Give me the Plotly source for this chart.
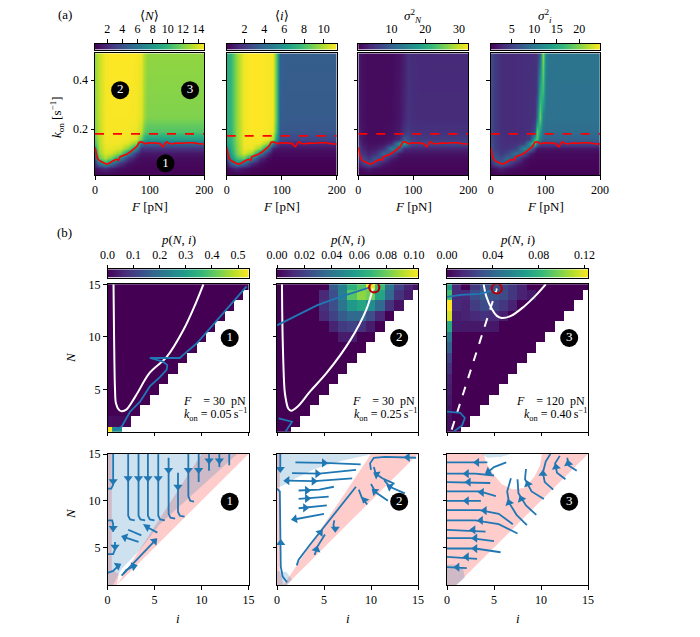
import numpy as np
import plotly.graph_objects as go

W, H = 700, 637
OFF = 8  # the page body margin shifts the figure by this many pixels
FONT = "Liberation Serif, DejaVu Serif, serif"
BLUE = "#1f77b4"
PINK = "rgba(255,0,0,0.2)"
SKY = "rgba(31,119,180,0.22)"

# ---------------- (a) sampled heat maps: columns F [pN], rows k_on [1/s]
F_COLS = [0, 8, 18, 30, 45, 60, 75, 84, 90, 96, 110, 200]
K_ROWS = [0.01, 0.04, 0.06, 0.08, 0.10, 0.12, 0.14, 0.16, 0.19, 0.25, 0.51]

MEAN_N = [
    [0.5] * 12,
    [1.0, 1.5, 2.0, 1.5, 0.9, 0.7, 0.6, 0.6, 0.6, 0.6, 0.6, 0.6],
    [2.5, 6.0, 9.0, 6.0, 2.5, 1.2, 0.8, 0.7, 0.7, 0.7, 0.7, 0.7],
    [4.0, 11.0, 13.0, 11.5, 7.0, 2.5, 1.2, 0.9, 0.9, 0.9, 0.9, 0.9],
    [6.0, 12.5, 14.0, 13.8, 12.0, 7.0, 2.5, 1.3, 1.3, 1.3, 1.3, 1.3],
    [9.0, 13.0, 14.3, 14.4, 14.0, 12.0, 7.5, 2.5, 2.5, 2.5, 2.5, 2.5],
    [10.5, 13.2, 14.5, 14.6, 14.5, 14.0, 12.0, 6.0, 5.0, 5.0, 5.0, 5.0],
    [11.3, 13.3, 14.5, 14.6, 14.6, 14.5, 14.0, 11.5, 9.5, 8.5, 8.5, 8.5],
    [12.0, 13.4, 14.6, 14.7, 14.7, 14.6, 14.4, 13.5, 11.5, 10.8, 10.8, 10.8],
    [12.3, 13.5, 14.6, 14.7, 14.7, 14.7, 14.6, 14.2, 12.8, 12.0, 12.0, 12.0],
    [12.5, 13.6, 14.6, 14.8, 14.8, 14.8, 14.7, 14.4, 13.2, 12.4, 12.4, 12.4],
]
MEAN_I = [
    [0.2] * 12,
    [0.4, 0.8, 1.2, 0.8, 0.4, 0.3, 0.2, 0.2, 0.2, 0.2, 0.2, 0.2],
    [1.2, 3.5, 5.5, 4.0, 1.5, 0.6, 0.3, 0.25, 0.25, 0.25, 0.25, 0.25],
    [2.5, 5.5, 8.0, 8.5, 5.0, 1.5, 0.5, 0.3, 0.3, 0.3, 0.3, 0.3],
    [4.0, 6.5, 9.0, 10.6, 9.5, 5.0, 1.5, 0.5, 0.5, 0.5, 0.5, 0.5],
    [5.5, 7.0, 9.3, 11.0, 11.0, 9.5, 5.0, 1.2, 0.9, 0.8, 0.8, 0.8],
    [6.5, 7.3, 9.4, 11.1, 11.2, 11.0, 9.5, 5.0, 2.5, 1.6, 1.5, 1.5],
    [7.0, 7.4, 9.5, 11.1, 11.2, 11.2, 11.0, 10.0, 6.0, 2.8, 2.6, 2.6],
    [7.0, 7.5, 9.5, 11.1, 11.3, 11.3, 11.2, 11.0, 7.5, 3.3, 3.2, 3.2],
    [7.0, 7.5, 9.6, 11.1, 11.3, 11.3, 11.2, 11.1, 8.0, 3.5, 3.4, 3.4],
    [7.0, 7.5, 9.6, 11.1, 11.3, 11.3, 11.2, 11.1, 8.0, 3.6, 3.5, 3.5],
]
VAR_N = [
    [0.5] * 12,
    [1.0, 1.5, 2.5, 1.5, 1.0, 0.8, 0.6, 0.6, 0.6, 0.6, 0.6, 0.6],
    [3.0, 6.0, 9.0, 6.0, 2.5, 1.2, 0.8, 0.8, 0.8, 0.8, 0.8, 0.8],
    [5.0, 8.0, 5.0, 9.0, 7.0, 2.5, 1.2, 1.0, 1.0, 1.0, 1.0, 1.0],
    [7.0, 5.0, 3.0, 4.5, 11.0, 8.0, 2.5, 1.8, 1.8, 1.8, 1.8, 1.8],
    [7.0, 3.5, 2.0, 2.5, 4.0, 14.0, 11.0, 4.0, 4.0, 3.5, 3.5, 3.5],
    [5.5, 2.5, 1.5, 1.5, 2.0, 4.0, 17.0, 19.0, 12.0, 8.0, 7.5, 7.5],
    [4.0, 2.0, 1.2, 1.2, 1.3, 2.0, 4.0, 10.0, 8.0, 6.5, 6.0, 6.0],
    [3.0, 1.8, 1.1, 1.1, 1.1, 1.5, 2.5, 5.0, 6.0, 5.0, 4.8, 4.8],
    [2.5, 1.6, 1.0, 1.0, 1.0, 1.2, 2.0, 3.5, 5.0, 4.5, 4.2, 4.2],
    [2.2, 1.5, 1.0, 1.0, 1.0, 1.1, 1.8, 3.0, 4.8, 4.3, 4.0, 4.0],
]
F_COLS4 = [0, 8, 18, 30, 45, 60, 72, 80, 85, 90, 95, 100, 106, 130, 200]
K_ROWS4 = [0.01, 0.04, 0.06, 0.08, 0.10, 0.12, 0.14, 0.16, 0.19, 0.25, 0.35, 0.51]
VAR_I = [
    [0.5] * 15,
    [1.0, 1.5, 2.5, 1.5, 1.0, 0.8, 0.6, 0.6, 0.6, 0.6, 0.6, 0.6, 0.6, 0.6, 0.6],
    [3.0, 6.0, 8.0, 6.0, 2.5, 1.2, 0.8, 0.7, 0.7, 0.7, 0.7, 0.7, 0.7, 0.7, 0.7],
    [5.0, 7.0, 6.0, 8.5, 6.0, 2.0, 1.0, 0.8, 0.8, 0.8, 0.8, 0.8, 0.8, 0.8, 0.8],
    [6.5, 6.0, 4.5, 5.5, 9.5, 7.0, 2.5, 1.2, 1.0, 1.0, 1.0, 1.0, 1.0, 1.0, 1.0],
    [7.0, 5.0, 4.0, 4.0, 5.0, 12.0, 10.0, 4.0, 2.0, 1.8, 1.8, 1.8, 1.8, 1.8, 1.8],
    [6.5, 4.8, 3.8, 3.6, 3.8, 5.0, 13.0, 18.0, 10.0, 6.0, 5.5, 5.5, 5.5, 5.5, 5.5],
    [6.2, 4.7, 3.7, 3.5, 3.5, 3.8, 5.0, 16.0, 18.0, 11.0, 8.5, 8.0, 8.0, 8.0, 8.0],
    [6.0, 4.6, 3.6, 3.4, 3.4, 3.5, 3.8, 6.0, 19.0, 14.0, 9.5, 9.0, 9.0, 9.0, 9.0],
    [6.0, 4.6, 3.6, 3.4, 3.4, 3.5, 3.6, 4.0, 9.0, 20.0, 11.0, 9.5, 9.5, 9.5, 9.5],
    [6.0, 4.6, 3.6, 3.4, 3.4, 3.5, 3.6, 3.8, 5.0, 15.0, 17.0, 10.0, 9.5, 9.5, 9.5],
    [6.0, 4.6, 3.6, 3.4, 3.4, 3.5, 3.6, 3.7, 4.2, 7.0, 21.0, 11.0, 9.6, 9.6, 9.6],
]
TOP_RANGE = [(0.4, 14.8), (0.2, 11.3), (0.1, 32.8), (0.35, 24.6)]
TOP_TICKS = [[2, 4, 6, 8, 10, 12, 14], [2, 4, 6, 8, 10], [10, 20, 30], [5, 10, 15, 20]]
TOP_TITLES = ["⟨<i>N</i>⟩", "⟨<i>i</i>⟩", "<i>σ</i><sup>2</sup><sub><i>N</i></sub>",
              "<i>σ</i><sup>2</sup><sub><i>i</i></sub>"]

# red curves: boundary of region 1 and the dashed threshold
EDGE_F = [0, 1, 3, 6, 10, 15, 21, 26, 30, 35, 40, 43, 46, 52, 58, 64, 70, 76, 81, 85,
          88, 92, 96, 100, 105, 110, 115, 119, 122, 125, 128, 131, 136, 140, 143, 150,
          155, 160, 170, 180, 190, 198, 200]
EDGE_K = [0.125, 0.118, 0.09, 0.075, 0.068, 0.062, 0.056, 0.06, 0.067, 0.072, 0.076,
          0.072, 0.087, 0.092, 0.097, 0.106, 0.116, 0.128, 0.146, 0.148, 0.145, 0.139,
          0.143, 0.144, 0.142, 0.144, 0.141, 0.142, 0.132, 0.128, 0.14, 0.148, 0.141,
          0.139, 0.14, 0.143, 0.141, 0.142, 0.144, 0.144, 0.14, 0.141, 0.139]
DASH_K = [0.18, 0.172, 0.18, 0.18]

# ---------------- (b) p(N, i): nonzero cells, keyed (i, N)
P1 = {(0, 1): 0.54, (1, 1): 0.27, (0, 2): 0.02, (1, 2): 0.015, (2, 2): 0.01}
P2 = {
    (6, 15): 0.03, (7, 15): 0.045, (8, 15): 0.065, (9, 15): 0.075, (10, 15): 0.1,
    (11, 15): 0.07, (12, 15): 0.04, (13, 15): 0.02, (14, 15): 0.01, (15, 15): 0.005,
    (5, 14): 0.012, (6, 14): 0.025, (7, 14): 0.045, (8, 14): 0.075, (9, 14): 0.085,
    (10, 14): 0.08, (11, 14): 0.06, (12, 14): 0.035, (13, 14): 0.015, (14, 14): 0.008,
    (5, 13): 0.015, (6, 13): 0.025, (7, 13): 0.04, (8, 13): 0.055, (9, 13): 0.06,
    (10, 13): 0.05, (11, 13): 0.035, (12, 13): 0.015, (13, 13): 0.005,
    (5, 12): 0.012, (6, 12): 0.02, (7, 12): 0.03, (8, 12): 0.035, (9, 12): 0.035,
    (10, 12): 0.025, (11, 12): 0.012,
    (6, 11): 0.01, (7, 11): 0.018, (8, 11): 0.02, (9, 11): 0.015, (10, 11): 0.008,
    (7, 10): 0.008, (8, 10): 0.008,
}
P3 = {
    (0, 15): 0.07, (0, 14): 0.085, (0, 13): 0.123, (0, 12): 0.115, (0, 11): 0.075,
    (0, 10): 0.05, (0, 9): 0.038, (0, 8): 0.025, (0, 7): 0.018, (0, 6): 0.012,
    (0, 5): 0.01, (0, 4): 0.008, (0, 3): 0.006, (0, 2): 0.005, (0, 1): 0.004,
    (1, 15): 0.015, (1, 14): 0.015, (1, 13): 0.015, (1, 12): 0.01, (1, 11): 0.008,
    (3, 15): 0.02, (4, 15): 0.03, (5, 15): 0.03, (6, 15): 0.025, (7, 15): 0.02, (8, 15): 0.012,
    (2, 14): 0.015, (3, 14): 0.028, (4, 14): 0.035, (5, 14): 0.032, (6, 14): 0.028,
    (7, 14): 0.02, (8, 14): 0.012, (9, 14): 0.008,
    (2, 13): 0.012, (3, 13): 0.022, (4, 13): 0.028, (5, 13): 0.025, (6, 13): 0.02, (7, 13): 0.012,
    (2, 12): 0.012, (3, 12): 0.015, (4, 12): 0.018, (5, 12): 0.015, (6, 12): 0.01,
    (2, 11): 0.008, (3, 11): 0.008, (4, 11): 0.008, (5, 11): 0.008,
}
P_MAX = [0.54, 0.103, 0.123]
P_TICKS = [[0, 0.1, 0.2, 0.3, 0.4, 0.5], [0, 0.02, 0.04, 0.06, 0.08, 0.10], [0, 0.04, 0.08, 0.12]]
P_TEXT = [["0.0", "0.1", "0.2", "0.3", "0.4", "0.5"],
          ["0.00", "0.02", "0.04", "0.06", "0.08", "0.10"],
          ["0.00", "0.04", "0.08", "0.12"]]
CASES = [("30", "0.05"), ("30", "0.25"), ("120", "0.40")]

# nullclines (white), trajectories (blue), fixed points (red rings)
NULL_I = [[0.64, 0.7, 0.8, 0.9, 1.2, 1.5, 2.0, 3.0, 4.5, 6.3, 8.1, 9.2, 10.2],
          [0.53, 0.6, 0.8, 0.9, 1.2, 1.5, 2.2, 3.5, 5.3, 7.8, 9.5, 10.2],
          [3.9, 4.2, 4.8, 5.3, 5.8, 6.8, 8.2, 9.5, 10.5]]
NULL_N = [[15, 10, 5, 3.7, 3.1, 2.95, 3.1, 4.4, 6.6, 8.1, 10.7, 12.8, 15],
          [15, 10, 5, 4.3, 3.2, 3.0, 3.4, 4.8, 6.6, 9.7, 12.6, 14.6],
          [15, 13.8, 12.6, 12.0, 11.8, 12.0, 12.9, 14.0, 15]]
DIAG_I = [0.5, 5.3]
DIAG_N = [1.2, 14.6]
TRAJ = [
    [([0.64, 1.5, 2.4, 3.46, 4.5, 5.6, 6.3, 6.36, 5.9, 4.5, 7.7, 8.06, 9.5, 14.8],
      [1.16, 1.47, 2.9, 3.85, 5.3, 6.2, 6.9, 7.33, 7.65, 8.0, 8.0, 8.3, 9.4, 14.8])],
    [([0, 2.0, 4.24, 6.7, 9.9], [11.1, 12.0, 13.0, 13.8, 14.7]),
     ([0.18, 1.6, 0.9], [2.27, 1.95, 1.0])],
    [([0, 1.5, 3.5, 5.2], [13.8, 14.0, 14.1, 14.5]),
     ([0, 1.4, 1.9, 1.6, 0.7], [2.9, 2.8, 2.3, 1.6, 1.0])],
]
FIXED = [None, (10.35, 14.7), (5.3, 14.6)]

# ---------------- (b) lower row: shaded regions and streamlines (i, N)
SHADES = [
    [(PINK, [(1, 1), (15, 15), (10, 15)]),
     (PINK, [(0, 1), (1, 1), (1.2, 2.2), (0.45, 2.6), (0.45, 15), (0, 15)]),
     (SKY, [(0, 15), (13.8, 15), (6.0, 7.9), (5.5, 7.4), (3.5, 4.8), (1.5, 2.7),
            (1.0, 1.8), (0.6, 1.0), (0, 1)])],
    [(PINK, [(0.7, 1), (1, 1), (15, 15), (10, 15)]),
     (PINK, [(0, 1), (0.7, 1), (0.3, 2.5), (0.3, 15), (0, 15)]),
     (SKY, [(0, 15), (10.2, 15), (7, 14.3), (4, 13.4), (2, 12.4), (0.6, 11.6), (0, 11.4)]),
     (SKY, [(0, 1), (1.1, 1), (1.6, 1.6), (1.0, 2.4), (0, 2.5)])],
    [(PINK, [(0, 1), (1, 1), (15, 15), (0, 15)]),
     ("white", [(3.9, 15), (4.2, 14.0), (4.9, 12.9), (5.8, 11.8), (7.0, 11.2), (8.3, 11.4),
                (9.3, 12.6), (9.9, 13.8), (10.1, 15)]),
     (SKY, [(3.7, 15), (6.8, 15), (5.8, 14.7), (4.3, 14.6)]),
     (SKY, [(0, 1), (1, 1), (1.9, 1.8), (1.7, 2.8), (0.8, 3.2), (0, 3.2)])],
]
STREAMS = [
    [[(2.2, 15), (2.2, 8.4), (2.4, 8.0), (2.9, 7.9)],
     [(3.3, 15), (3.3, 8.4), (3.5, 8.0), (4.0, 7.9)],
     [(4.3, 15), (4.3, 8.4), (4.5, 8.0), (5.0, 7.9)],
     [(5.4, 15), (5.4, 8.4), (5.6, 8.0), (6.1, 7.9)],
     [(6.5, 14.6), (6.5, 8.6), (6.7, 8.2), (7.2, 8.1)],
     [(7.5, 13.0), (7.5, 8.8), (7.7, 8.4), (8.2, 8.3)],
     [(8.6, 15), (8.6, 10.5), (8.8, 10.0), (9.2, 9.9)],
     [(9.7, 15), (9.7, 12.0)],
     [(10.8, 15), (10.8, 13.2)],
     [(11.9, 15), (11.9, 13.6)],
     [(12.95, 15), (12.95, 13.8)],
     [(0.6, 15), (0.6, 11.7), (0.4, 11.3), (0, 11.3)],
     [(0, 7.9), (0.5, 7.9), (0.6, 7.5), (0.6, 6.7)],
     [(0, 4.3), (0.6, 4.3), (0.8, 4.8), (0.8, 5.6)],
     [(0, 2.3), (0.6, 2.5), (1.2, 3.1)],
     [(1.7, 2.2), (2.0, 2.6), (2.8, 3.0)],
     [(1.5, 2.0), (3.0, 3.6), (4.5, 5.2), (5.2, 5.9)],
     [(2.2, 6.9), (3.6, 6.3)],
     [(1.85, 6.1), (3.3, 5.6)],
     [(4.2, 7.2), (5.3, 6.6)]],
    [[(1.96, 14.1), (5.0, 14.05), (8.9, 13.9)],
     [(1.6, 12.95), (4.5, 12.9), (8.4, 13.3)],
     [(1.07, 12.15), (4.0, 12.1), (8.0, 12.4)],
     [(2.3, 11.1), (4.5, 11.2), (6.05, 11.5)],
     [(2.3, 10.2), (5.5, 10.45)],
     [(2.3, 9.2), (5.3, 9.5)],
     [(1.8, 8.0), (3.5, 8.3), (5.0, 8.6)],
     [(1.07, 1.3), (0.6, 1.9), (0.4, 3), (0.35, 6), (0.35, 9), (0.3, 11.0), (0, 11.3)],
     [(0.35, 15), (0.35, 13.3)],
     [(2.1, 3.1), (2.3, 3.7), (3.5, 5.3), (5.5, 7.8), (8.4, 11.5)],
     [(4.0, 4.2), (4.3, 5.1), (5.1, 6.4)],
     [(6.1, 7.9), (6.0, 7.4), (6.2, 6.8)],
     [(14.8, 14.6), (11.5, 14.7), (10.3, 14.6), (9.9, 14.0), (10.0, 13.3)],
     [(12.5, 11.8), (11.2, 12.4), (10.5, 12.9), (10.3, 13.6)],
     [(13.6, 10.8), (12.0, 11.5), (11.4, 12.2)],
     [(11.8, 10.0), (10.5, 10.9), (10.0, 11.8)],
     [(9.6, 9.6), (9.0, 10.4), (8.7, 11.2)]],
    [[(4.3, 14.1), (0, 14.1)],
     [(5.0, 12.7), (3, 12.9), (0, 12.9)],
     [(4.6, 11.9), (0, 12.0)],
     [(5.2, 10.5), (3.5, 11.0), (0, 11.0)],
     [(3.6, 10.0), (0, 10.0)],
     [(7.0, 7.5), (5.5, 8.6), (3.5, 9.0), (0, 9.0)],
     [(7.5, 6.5), (5.5, 7.5), (3.0, 7.9), (0, 7.9)],
     [(4.1, 6.7), (0, 6.9)],
     [(5.0, 5.7), (2.5, 6.0), (0, 6.0)],
     [(5.7, 4.5), (3, 4.9), (0, 4.9)],
     [(3.2, 3.8), (0, 4.0)],
     [(2.1, 2.8), (0, 2.9)],
     [(8.5, 7.4), (7.4, 8.5), (6.6, 9.8), (6.4, 11.0), (6.8, 12.4)],
     [(9.5, 8.5), (8.4, 9.5), (7.6, 10.8), (7.5, 12.3)],
     [(10.3, 10.2), (9.0, 11.0), (8.3, 12.3), (8.4, 13.4)],
     [(6.3, 14.1), (5.0, 13.6), (4.4, 13.1)],
     [(11.3, 11.2), (10.4, 12.0), (10.2, 13.0), (10.5, 14.2), (11.0, 15)],
     [(12.6, 12.3), (11.7, 13.0), (11.5, 14.0), (12.0, 14.8)],
     [(13.8, 13.2), (12.9, 13.8), (12.8, 14.6)]],
]
# arrow heads (i, N, direction in degrees clockwise from up)
ARROWS = [
    [(2.2, 12.4, 180), (3.3, 12.4, 180), (4.3, 12.4, 180), (5.4, 12.4, 180),
     (6.5, 13.3, 180), (7.5, 11.5, 180), (8.6, 13.3, 180), (9.7, 13.3, 180),
     (10.8, 14.3, 180), (11.9, 14.3, 180), (0.6, 12.1, 180), (0.6, 7.1, 180),
     (0.8, 5.1, 180), (1.1, 3.05, 60), (2.8, 3.0, 75), (5.0, 5.7, 45),
     (1.85, 6.1, -70), (4.2, 7.2, 60)],
    [(5.0, 14.05, 90), (4.3, 12.9, 90), (3.9, 12.1, 90), (1.1, 12.15, -90),
     (3.2, 11.1, 90), (3.2, 10.25, 90), (3.0, 9.25, 90), (1.9, 8.05, -100),
     (0.4, 5.5, 0), (0.35, 13.4, 180), (4.6, 6.6, 40), (4.2, 4.8, 15),
     (6.2, 7.0, 180), (13.9, 14.65, -90), (10.6, 12.8, -60), (12.0, 11.5, -60),
     (10.4, 11.0, -50), (9.3, 10.1, -160)],
    [(3.2, 14.1, -90), (2.1, 12.9, -90), (2.3, 12.0, -90), (3.7, 10.9, -90),
     (2.1, 10.0, -90), (4.0, 8.95, -90), (3.6, 7.9, -90), (2.8, 6.9, -90),
     (3.0, 6.0, -90), (3.0, 4.9, -90), (2.1, 4.0, -90), (1.1, 2.9, -90),
     (6.6, 9.8, -20), (7.9, 10.2, -25), (8.6, 11.8, -20), (4.4, 13.1, -120),
     (10.2, 12.9, 0), (11.6, 13.6, -10), (12.9, 14.0, -10)],
]

# ---------------- layout helpers (positions in window pixels)
TOP_X = [(95, 204.3), (226.7, 336.7), (358.3, 468.3), (490.7, 600)]
TOP_Y = (53.3, 175)
TOPCB_Y = (43.5, 49.8)
LOW_X = [(107.5, 248.5), (277, 418), (447, 588)]
MID_Y = (284.3, 431.7)
MIDCB_Y = (269.3, 277.7)
BOT_Y = (454, 585)

layout = dict(width=W, height=H, margin=dict(l=0, r=0, t=0, b=0), template="none",
              paper_bgcolor="white", plot_bgcolor="white", showlegend=False,
              font=dict(family=FONT, size=12, color="black"))
annotations = []
traces = []


def px_x(p):
    return (p - OFF) / W


def px_y(p):
    return 1 - (p - OFF) / H


def frame(**kw):
    d = dict(showline=True, linecolor="black", linewidth=1, mirror=True,
             ticks="outside", ticklen=3.5, tickwidth=0.8, tickcolor="black",
             showgrid=False, zeroline=False, automargin=False,
             tickfont=dict(family=FONT, size=12, color="black"))
    d.update(kw)
    return d


def add_axes(n, xs, ys, xa, ya):
    s = "" if n == 1 else str(n)
    layout["xaxis" + s] = dict(domain=[px_x(xs[0]), px_x(xs[1])], anchor="y" + s, **xa)
    layout["yaxis" + s] = dict(domain=[px_y(ys[1]), px_y(ys[0])], anchor="x" + s, **ya)
    return ("x" + s, "y" + s)


def note(text, px, py, size=13, xanchor="center", **kw):
    annotations.append(dict(text=text, x=px_x(px), y=px_y(py), xref="paper", yref="paper",
                            xanchor=xanchor, yanchor="middle", showarrow=False,
                            font=dict(family=FONT, size=size, color="black"), **kw))


def colour_strip(n, xs, ys, lo, hi, ticks, text=None):
    xa = frame(side="top", range=[lo, hi], tickvals=ticks, ticklabelstandoff=1)
    if text:
        xa["ticktext"] = text
    ax = add_axes(n, xs, ys, xa, frame(range=[-0.5, 0.5], ticks="", showticklabels=False))
    vals = np.linspace(lo, hi, 256)
    traces.append(go.Heatmap(z=[vals], x=vals, y=[0], colorscale="Viridis", zmin=lo,
                             zmax=hi, showscale=False, hoverinfo="skip",
                             xaxis=ax[0], yaxis=ax[1]))


def badge(ax, x, y, label):
    traces.append(go.Scatter(x=[x], y=[y], mode="markers+text", text=[label],
                             textposition="middle center",
                             textfont=dict(family=FONT, size=13, color="white"),
                             marker=dict(size=18, color="black"),
                             xaxis=ax[0], yaxis=ax[1]))


# ---------------- (a)
maps = [(F_COLS, K_ROWS, MEAN_N), (F_COLS, K_ROWS, MEAN_I), (F_COLS, K_ROWS, VAR_N),
        (F_COLS4, K_ROWS4, VAR_I)]
for k in range(4):
    xa = frame(range=[0, 200], tickvals=[0, 100, 200])
    ya = frame(range=[0.012, 0.51], tickvals=[0.2, 0.4], showticklabels=(k == 0))
    ax = add_axes(k + 1, TOP_X[k], TOP_Y, xa, ya)
    fx, ky, zz = maps[k]
    lo, hi = TOP_RANGE[k]
    traces.append(go.Heatmap(x=fx, y=ky, z=zz, colorscale="Viridis", zmin=lo, zmax=hi,
                             zsmooth="best", showscale=False, hoverinfo="skip",
                             xaxis=ax[0], yaxis=ax[1]))
    traces.append(go.Scatter(x=[0, 200], y=[DASH_K[k]] * 2, mode="lines",
                             line=dict(color="red", width=1.8, dash="dash"),
                             xaxis=ax[0], yaxis=ax[1]))
    traces.append(go.Scatter(x=EDGE_F, y=EDGE_K, mode="lines",
                             line=dict(color="red", width=1.6),
                             xaxis=ax[0], yaxis=ax[1]))
    if k == 0:
        badge(ax, 46, 0.359, "2")
        badge(ax, 174, 0.359, "3")
        badge(ax, 129, 0.06, "1")
    colour_strip(k + 5, TOP_X[k], TOPCB_Y, lo, hi, TOP_TICKS[k])
    cx = (TOP_X[k][0] + TOP_X[k][1]) / 2
    note(TOP_TITLES[k], cx, 16)
    note("<i>F</i> [pN]", cx, 207)

note("(a)", 65, 15)
note("<i>k</i><sub>on</sub> [s<sup>−1</sup>]", 57, 117, textangle=-90)

# ---------------- (b) middle row
dists = [P1, P2, P3]
for k in range(3):
    xa = frame(range=[0, 15], tickvals=[0, 5, 10, 15], showticklabels=False)
    ya = frame(range=[1, 15], tickvals=[5, 10, 15], showticklabels=(k == 0))
    ax = add_axes(k + 9, LOW_X[k], MID_Y, xa, ya)
    z = []
    for n in range(1, 16):
        z.append([dists[k].get((i, n), 0.0) if i <= n else None for i in range(16)])
    traces.append(go.Heatmap(x=list(range(16)), y=list(range(1, 16)), z=z,
                             colorscale="Viridis", zmin=0, zmax=P_MAX[k], showscale=False,
                             hoverinfo="skip", xaxis=ax[0], yaxis=ax[1]))
    traces.append(go.Scatter(x=NULL_I[k], y=NULL_N[k], mode="lines",
                             line=dict(color="white", width=2, shape="spline"),
                             xaxis=ax[0], yaxis=ax[1]))
    if k == 2:
        traces.append(go.Scatter(x=DIAG_I, y=DIAG_N, mode="lines",
                                 line=dict(color="white", width=2, dash="dash"),
                                 xaxis=ax[0], yaxis=ax[1]))
    for ti, tn in TRAJ[k]:
        traces.append(go.Scatter(x=ti, y=tn, mode="lines",
                                 line=dict(color=BLUE, width=1.8),
                                 xaxis=ax[0], yaxis=ax[1]))
    if FIXED[k]:
        traces.append(go.Scatter(x=[FIXED[k][0]], y=[FIXED[k][1]], mode="markers",
                                 marker=dict(size=10, color="rgba(0,0,0,0)",
                                             line=dict(color="#b30000", width=2.2)),
                                 xaxis=ax[0], yaxis=ax[1]))
    badge(ax, 13.0, 9.9, str(k + 1))
    colour_strip(k + 12, LOW_X[k], MIDCB_Y, 0, P_MAX[k], P_TICKS[k], P_TEXT[k])
    cx = (LOW_X[k][0] + LOW_X[k][1]) / 2
    note("<i>p</i>(<i>N</i>, <i>i</i>)", cx, 240)
    f_val, k_val = CASES[k]
    note("<i>F</i>\u00a0\u00a0\u00a0\u00a0= " + f_val + "\u00a0\u00a0pN", LOW_X[k][1] - 1, 401,
         size=12, xanchor="right")
    note("<i>k</i><sub>on</sub> = " + k_val + "\u2009s<sup>−1</sup>", LOW_X[k][1] + 1, 414,
         size=12, xanchor="right")

note("(b)", 64, 232)
note("<i>N</i>", 70, 357, textangle=-90)

# ---------------- (b) lower row
for k in range(3):
    xa = frame(range=[0, 15], tickvals=[0, 5, 10, 15])
    ya = frame(range=[1, 15], tickvals=[5, 10, 15], showticklabels=(k == 0))
    ax = add_axes(k + 15, LOW_X[k], BOT_Y, xa, ya)
    for colour, poly in SHADES[k]:
        pi = [p[0] for p in poly]
        pn = [p[1] for p in poly]
        traces.append(go.Scatter(x=pi, y=pn, mode="lines", fill="toself", fillcolor=colour,
                                 line=dict(width=0, color=colour),
                                 xaxis=ax[0], yaxis=ax[1]))
    xs, ys = [], []
    for line in STREAMS[k]:
        xs += [p[0] for p in line] + [None]
        ys += [p[1] for p in line] + [None]
    traces.append(go.Scatter(x=xs, y=ys, mode="lines", line=dict(color=BLUE, width=1.8),
                             xaxis=ax[0], yaxis=ax[1]))
    traces.append(go.Scatter(x=[a[0] for a in ARROWS[k]], y=[a[1] for a in ARROWS[k]],
                             mode="markers",
                             marker=dict(symbol="triangle-up", size=8, color=BLUE,
                                         angle=[a[2] for a in ARROWS[k]]),
                             xaxis=ax[0], yaxis=ax[1]))
    badge(ax, 13.0, 9.9, str(k + 1))
    note("<i>i</i>", (LOW_X[k][0] + LOW_X[k][1]) / 2, 618)

note("<i>N</i>", 70, 513, textangle=-90)

layout["annotations"] = annotations
fig = go.Figure(data=traces, layout=layout)
fig.write_html("out.html")
